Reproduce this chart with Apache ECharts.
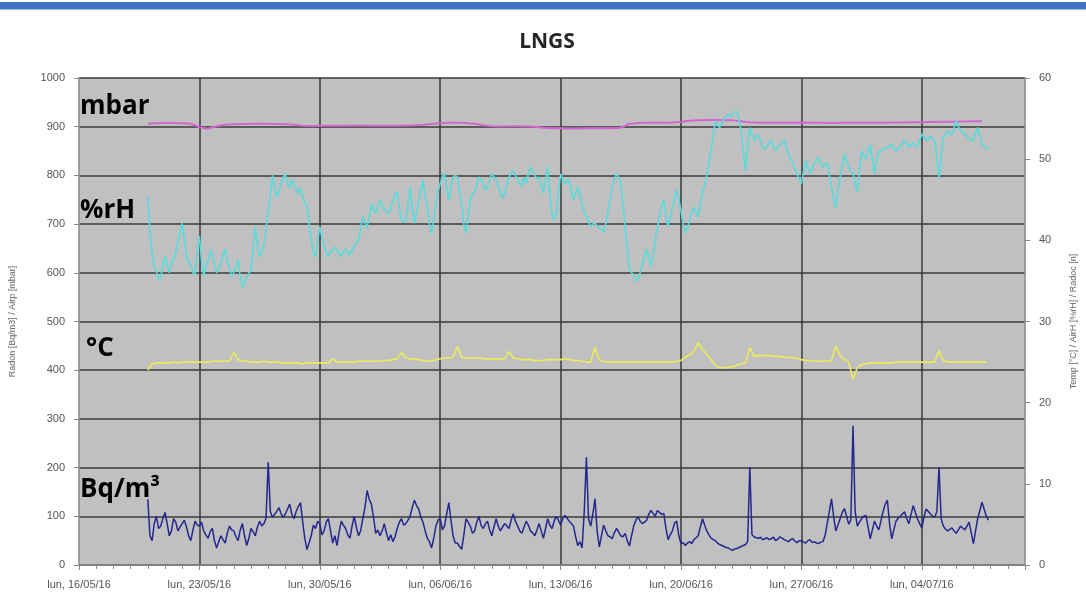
<!DOCTYPE html>
<html>
<head>
<meta charset="utf-8">
<script src="https://cdn.jsdelivr.net/npm/echarts@6/dist/echarts.min.js"></script>
<style>
  html, body { margin: 0; padding: 0; background: #ffffff; }
  #chart { width: 1086px; height: 594px; }
</style>
</head>
<body>
<div id="chart"></div>
<script>
// Weekly tick labels of the time axis (days counted from Monday 16/05/16)
const WEEK_LABELS = [
  'lun, 16/05/16', 'lun, 23/05/16', 'lun, 30/05/16', 'lun, 06/06/16',
  'lun, 13/06/16', 'lun, 20/06/16', 'lun, 27/06/16', 'lun, 04/07/16'
];

// Measurements start on 20/05/16 00:00 (day 4)
const SERIES_START_DAY = 4;
const FINE_STEP_DAYS = 0.125;     // radon and humidity: every 3 hours
const STEP_DAYS = 0.25;           // temperature: every 6 hours
const PRESSURE_STEP_DAYS = 0.5;   // pressure: every 12 hours

// Radon concentration [Bq/m3] (left axis), one row per day
const radon = [
  135, 60, 50, 85, 100, 75, 80, 95,
  108, 85, 60, 70, 95, 88, 70, 78,
  85, 92, 78, 60, 50, 72, 90, 82,
  80, 88, 70, 62, 55, 68, 75, 50,
  35, 48, 60, 52, 45, 66, 80, 72,
  70, 58, 50, 72, 85, 60, 40, 55,
  75, 68, 60, 78, 90, 80, 85, 96,
  211, 110, 98, 104, 110, 118, 105, 98,
  105, 115, 125, 104, 95, 110, 120, 128,
  90, 55, 32, 45, 60, 82, 75, 90,
  85, 62, 70, 88, 95, 70, 45, 60,
  40, 68, 90, 82, 75, 62, 55, 80,
  100, 78, 60, 70, 95, 118, 153, 135,
  125, 98, 65, 72, 60, 70, 85, 66,
  50, 62, 48, 58, 75, 88, 95, 82,
  85, 92, 100, 118, 133, 122, 115, 98,
  88, 70, 55, 48, 35, 55, 80, 92,
  95, 72, 80, 105, 128, 92, 60, 45,
  45, 38, 32, 62, 95, 88, 80, 65,
  70, 88, 100, 82, 75, 84, 90, 72,
  60, 78, 95, 80, 70, 78, 85, 80,
  75, 92, 105, 90, 80, 70, 65, 78,
  90, 82, 70, 66, 60, 72, 85, 70,
  55, 75, 95, 82, 75, 90, 100, 92,
  82, 95, 102, 96, 90, 85, 80, 58,
  40, 48, 35, 110, 221, 95, 80, 105,
  136, 70, 37, 60, 82, 70, 60, 58,
  54, 66, 75, 68, 60, 58, 65, 50,
  39, 60, 80, 92, 99, 90, 85, 88,
  92, 104, 112, 106, 100, 112, 108, 104,
  106, 75, 52, 62, 70, 86, 90, 60,
  44, 46, 40, 45, 48, 44, 52, 56,
  60, 78, 95, 82, 70, 62, 55, 52,
  50, 45, 42, 40, 38, 36, 35, 32,
  30, 33, 34, 36, 38, 40, 42, 48,
  201, 62, 58, 56, 55, 57, 52, 54,
  56, 52, 54, 57, 50, 53, 58, 55,
  52, 50, 48, 52, 54, 49, 46, 50,
  50, 47, 45, 50, 52, 46, 48, 45,
  44, 47, 48, 60, 85, 110, 136, 100,
  70, 82, 95, 108, 116, 100, 84, 92,
  286, 110, 80, 88, 95, 100, 102, 78,
  54, 72, 90, 80, 72, 90, 110, 125,
  133, 85, 54, 72, 90, 96, 100, 105,
  109, 95, 85, 104, 122, 108, 95, 85,
  76, 98, 115, 110, 105, 100, 98, 110,
  201, 95, 80, 74, 70, 73, 76, 70,
  65, 72, 80, 76, 72, 80, 88, 66,
  44, 70, 95, 112, 129, 115, 100, 92
];

// Air humidity [%rH] (right axis), one row per day
const humidity = [
  45.4, 41.0, 38.5, 36.8, 36.2, 35.2, 35.4, 37.0,
  38.0, 37.0, 36.0, 37.2, 37.5, 38.6, 39.7, 41.0,
  42.1, 40.0, 38.0, 37.2, 37.0, 36.0, 35.8, 38.5,
  40.5, 37.5, 35.6, 36.8, 37.5, 38.8, 38.4, 37.0,
  36.0, 36.5, 37.2, 38.2, 38.9, 37.5, 36.5, 35.6,
  36.0, 36.8, 37.6, 35.5, 34.2, 34.8, 35.5, 36.0,
  36.2, 39.0, 41.7, 39.5, 38.0, 38.5, 39.5, 41.5,
  43.3, 45.5, 48.0, 46.5, 45.4, 46.0, 47.0, 47.8,
  48.2, 47.0, 46.5, 47.5, 47.0, 46.2, 45.8, 46.4,
  45.5, 44.6, 44.2, 42.0, 40.0, 38.5, 38.0, 40.0,
  41.7, 40.3, 39.3, 38.5, 38.0, 38.6, 38.8, 39.2,
  38.8, 38.3, 38.0, 38.6, 39.0, 38.5, 38.2, 38.8,
  39.3, 39.8, 40.0, 41.5, 42.9, 42.2, 41.5, 43.0,
  44.5, 43.8, 43.3, 44.2, 45.0, 44.3, 43.8, 43.5,
  43.3, 44.0, 45.0, 45.6, 46.0, 44.0, 42.5, 42.2,
  42.5, 44.5, 46.6, 44.0, 42.1, 43.5, 45.0, 46.2,
  47.4, 45.5, 44.0, 42.0, 40.9, 42.5, 44.5, 46.0,
  47.0, 47.8, 48.2, 46.5, 45.0, 46.5, 47.8, 48.0,
  47.8, 46.0, 44.5, 42.0, 40.9, 43.0, 45.0, 45.8,
  46.0, 47.0, 47.8, 47.5, 47.0, 46.2, 46.5, 47.5,
  48.2, 47.8, 47.4, 46.5, 46.0, 45.2, 45.8, 47.0,
  47.8, 48.3, 48.6, 48.0, 47.5, 47.0, 46.6, 47.8,
  47.0, 48.2, 49.0, 48.5, 48.0, 47.6, 47.8, 46.8,
  45.8, 47.5, 49.0, 46.0, 43.3, 42.5, 43.0, 46.0,
  48.2, 47.5, 47.0, 47.5, 47.2, 46.0, 45.0, 45.8,
  46.6, 45.5, 44.5, 43.5, 43.0, 42.3, 41.7, 42.0,
  42.1, 41.8, 41.5, 41.3, 41.1, 42.0, 43.5, 45.0,
  46.6, 47.5, 48.2, 47.8, 47.0, 44.5, 41.7, 39.0,
  36.4, 36.0, 35.8, 35.0, 35.2, 36.0, 37.0, 38.0,
  38.9, 37.8, 36.8, 38.0, 40.0, 41.5, 43.0, 44.2,
  45.0, 43.0, 41.7, 42.8, 44.0, 45.2, 46.2, 45.0,
  43.7, 42.0, 40.9, 41.5, 42.5, 43.5, 44.1, 43.5,
  42.9, 44.5, 45.8, 46.8, 48.0, 49.5, 51.0, 53.0,
  54.7, 54.2, 53.9, 54.5, 55.0, 55.3, 55.5, 55.2,
  55.5, 55.8, 55.9, 54.8, 53.5, 51.0, 48.6, 51.5,
  53.9, 53.0, 52.3, 52.8, 53.0, 52.2, 51.5, 51.2,
  51.5, 52.0, 52.3, 51.6, 51.0, 51.5, 51.8, 52.0,
  52.3, 51.4, 50.6, 50.0, 49.5, 48.8, 48.2, 47.5,
  47.0, 48.5, 49.8, 49.0, 48.2, 48.8, 49.5, 49.8,
  50.2, 49.5, 49.0, 49.3, 49.5, 48.0, 46.6, 45.2,
  44.0, 46.0, 47.8, 49.2, 50.6, 49.8, 49.0, 48.5,
  48.2, 47.0, 46.0, 48.5, 51.0, 50.5, 50.0, 51.0,
  51.8, 50.0, 48.2, 49.8, 51.0, 51.0, 51.2, 51.4,
  51.5, 51.6, 51.8, 51.4, 51.0, 51.3, 51.5, 51.9,
  52.3, 51.9, 51.5, 51.8, 52.0, 51.7, 51.5, 52.3,
  53.1, 52.7, 52.3, 52.5, 52.8, 52.5, 52.3, 50.0,
  47.7, 50.2, 52.7, 53.0, 53.5, 53.2, 53.0, 53.8,
  54.7, 54.0, 53.5, 53.3, 53.1, 52.8, 52.5, 52.4,
  52.3, 53.2, 53.9, 52.8, 51.8, 51.6, 51.5, 51.2
];

// Air temperature [°C] (right axis)
const temperature = [
  24.0, 24.8, 24.9, 24.9,  24.9, 24.9, 25.0, 24.9,  25.0, 25.0, 25.0, 25.0,  25.0, 25.0, 25.0, 25.1,
  25.1, 25.1, 25.1, 25.1,  26.2, 25.3, 25.1, 25.1,  25.0, 25.0, 25.0, 25.1,  25.0, 25.0, 25.0, 24.9,
  24.9, 24.9, 24.9, 24.9,  24.8, 24.9, 24.9, 24.9,  24.9, 24.9, 24.9, 25.4,  25.0, 25.0, 25.0, 25.0,
  25.0, 25.1, 25.1, 25.1,  25.1, 25.1, 25.1, 25.2,  25.2, 25.3, 25.4, 26.2,  25.5, 25.4, 25.4, 25.3,
  25.2, 25.1, 25.1, 25.3,  25.4, 25.5, 25.5, 25.6,  26.9, 25.6, 25.5, 25.5,  25.5, 25.5, 25.4, 25.4,
  25.4, 25.4, 25.4, 25.4,  26.3, 25.5, 25.4, 25.3,  25.3, 25.3, 25.2, 25.2,  25.2, 25.3, 25.3, 25.3,
  25.3, 25.4, 25.3, 25.2,  25.2, 25.1, 25.0, 25.0,  26.8, 25.3, 25.1, 25.0,  25.0, 25.0, 25.0, 25.0,
  25.0, 25.0, 25.0, 25.0,  25.0, 25.0, 25.0, 25.0,  25.0, 25.0, 25.0, 25.1,  25.2, 25.6, 25.9, 26.3,
  27.4, 26.5, 26.0, 25.3,  24.6, 24.3, 24.3, 24.4,  24.4, 24.6, 24.8, 24.9,  26.8, 25.7, 25.8, 25.8,
  25.8, 25.8, 25.7, 25.7,  25.6, 25.6, 25.5, 25.5,  25.3, 25.2, 25.2, 25.1,  25.1, 25.1, 25.1, 25.2,
  27.0, 25.8, 25.3, 25.0,  22.9, 24.3, 24.7, 24.8,  24.9, 24.9, 24.9, 24.9,  24.9, 24.9, 25.0, 25.0,
  25.0, 25.0, 25.0, 25.0,  25.0, 25.0, 25.0, 25.0,  26.4, 25.2, 25.0, 25.0,  25.0, 25.0, 25.0, 25.0,
  25.0, 25.0, 25.0, 25.0
];

// Air pressure [mbar] (left axis)
const pressure = [
  906, 907, 907.5, 907.5, 907, 906, 899, 896, 901, 904,
  905, 905.5, 906, 906, 906, 905.5, 905, 904, 902, 901.5,
  902, 902, 902, 902, 902.5, 902.5, 902, 902, 902, 902,
  902.5, 903, 904, 905.5, 907, 908, 908, 907.5, 906, 903,
  901, 900.5, 901, 901, 900.5, 900, 898, 897, 897, 896.5,
  896.5, 897, 897, 897, 897, 898, 906, 907.5, 908, 908,
  908, 908.5, 910, 912, 913, 914, 914, 913.5, 913, 911,
  909, 908, 908, 908, 908, 908, 908.5, 908, 908, 907.5,
  907.5, 908, 908, 908, 908, 908, 908, 908.5, 908.5, 909,
  909, 909.5, 910, 910, 910, 910.5, 911, 911
];

function toPoints(values, start, step) {
  return values.map(function (v, i) { return [start + i * step, v]; });
}

const chart = echarts.init(document.getElementById('chart'), null, { renderer: 'canvas' });

const gridLine = { color: '#3a3a3a', width: 1.5 };
const axisGray = '#8a8a8a';
const tickFont = { color: '#555555', fontSize: 11, fontFamily: 'Liberation Sans, Arial, sans-serif' };

const option = {
  backgroundColor: '#ffffff',
  animation: false,
  grid: {
    left: 78, right: 61, top: 78, bottom: 29,
    show: true, backgroundColor: '#c0c0c0', borderWidth: 0
  },
  xAxis: {
    type: 'value',
    min: 0, max: 55, interval: 7,
    axisLine: { show: true, lineStyle: { color: axisGray, width: 1.5 } },
    axisTick: { show: true, length: 5, lineStyle: { color: axisGray } },
    minorTick: { show: true, splitNumber: 7, length: 4, lineStyle: { color: axisGray } },
    splitLine: { show: true, showMinLine: false, showMaxLine: false, lineStyle: gridLine },
    axisLabel: Object.assign({
      margin: 14,
      showMaxLabel: false,
      formatter: function (v) {
        const k = Math.round(v / 7);
        return (Math.abs(v - k * 7) < 1e-6 && WEEK_LABELS[k]) ? WEEK_LABELS[k] : '';
      }
    }, tickFont)
  },
  yAxis: [
    {
      type: 'value', position: 'left',
      min: 0, max: 1000, interval: 100,
      name: 'Radon [Bq/m3] / Airp [mbar]',
      nameLocation: 'middle', nameGap: 62,
      nameTextStyle: { color: '#666666', fontSize: 9, fontFamily: 'Liberation Sans, Arial, sans-serif' },
      axisLine: { show: true, lineStyle: { color: axisGray, width: 1.5 } },
      axisTick: { show: true, length: 5, lineStyle: { color: axisGray } },
      splitLine: { show: true, lineStyle: gridLine },
      axisLabel: Object.assign({ margin: 14, formatter: function (v) { return String(v); } }, tickFont)
    },
    {
      type: 'value', position: 'right',
      min: 0, max: 60, interval: 10,
      name: 'Temp [°C] / AirH [%rH] / Radoc [n]',
      nameLocation: 'middle', nameGap: 44,
      nameTextStyle: { color: '#666666', fontSize: 9, fontFamily: 'Liberation Sans, Arial, sans-serif' },
      axisLine: { show: true, lineStyle: { color: axisGray, width: 1.5 } },
      axisTick: { show: true, length: 5, lineStyle: { color: axisGray } },
      splitLine: { show: false },
      axisLabel: Object.assign({ margin: 14, formatter: function (v) { return String(v); } }, tickFont)
    }
  ],
  series: [
    {
      name: 'Airp', type: 'line', yAxisIndex: 0, showSymbol: false,
      data: toPoints(pressure, SERIES_START_DAY, PRESSURE_STEP_DAYS),
      lineStyle: { color: '#d466d2', width: 2 }
    },
    {
      name: 'AirH', type: 'line', yAxisIndex: 1, showSymbol: false,
      data: toPoints(humidity, SERIES_START_DAY, FINE_STEP_DAYS),
      lineStyle: { color: '#55dcdc', width: 1.6 }
    },
    {
      name: 'Temp', type: 'line', yAxisIndex: 1, showSymbol: false,
      data: toPoints(temperature, SERIES_START_DAY, STEP_DAYS),
      lineStyle: { color: '#ecec5a', width: 1.6 }
    },
    {
      name: 'Radon', type: 'line', yAxisIndex: 0, showSymbol: false,
      data: toPoints(radon, SERIES_START_DAY, FINE_STEP_DAYS),
      lineStyle: { color: '#26268f', width: 1.5 }
    }
  ],
  graphic: [
    { type: 'rect', left: 0, top: 2, shape: { width: 1086, height: 7.5 }, style: { fill: '#4472c4' }, silent: true },
    {
      type: 'text', x: 547, y: 42, silent: true,
      style: { text: 'LNGS', fill: '#262626', font: 'bold 21px "Open Sans", sans-serif', textAlign: 'center', textVerticalAlign: 'middle' }
    },
    {
      type: 'text', x: 80, y: 107, silent: true, z: 100,
      style: { text: 'mbar', fill: '#000000', font: 'bold 26px "Open Sans", sans-serif', textAlign: 'left', textVerticalAlign: 'middle' }
    },
    {
      type: 'text', x: 80, y: 211, silent: true, z: 100,
      style: { text: '%rH', fill: '#000000', font: 'bold 26px "Open Sans", sans-serif', textAlign: 'left', textVerticalAlign: 'middle' }
    },
    {
      type: 'text', x: 86, y: 349, silent: true, z: 100,
      style: { text: '°C', fill: '#000000', font: 'bold 26px "Open Sans", sans-serif', textAlign: 'left', textVerticalAlign: 'middle' }
    },
    {
      type: 'text', x: 80, y: 490, silent: true, z: 100,
      style: { text: 'Bq/m³', fill: '#000000', font: 'bold 26px "Open Sans", sans-serif', textAlign: 'left', textVerticalAlign: 'middle' }
    }
  ]
};

chart.setOption(option);
</script>
</body>
</html>
